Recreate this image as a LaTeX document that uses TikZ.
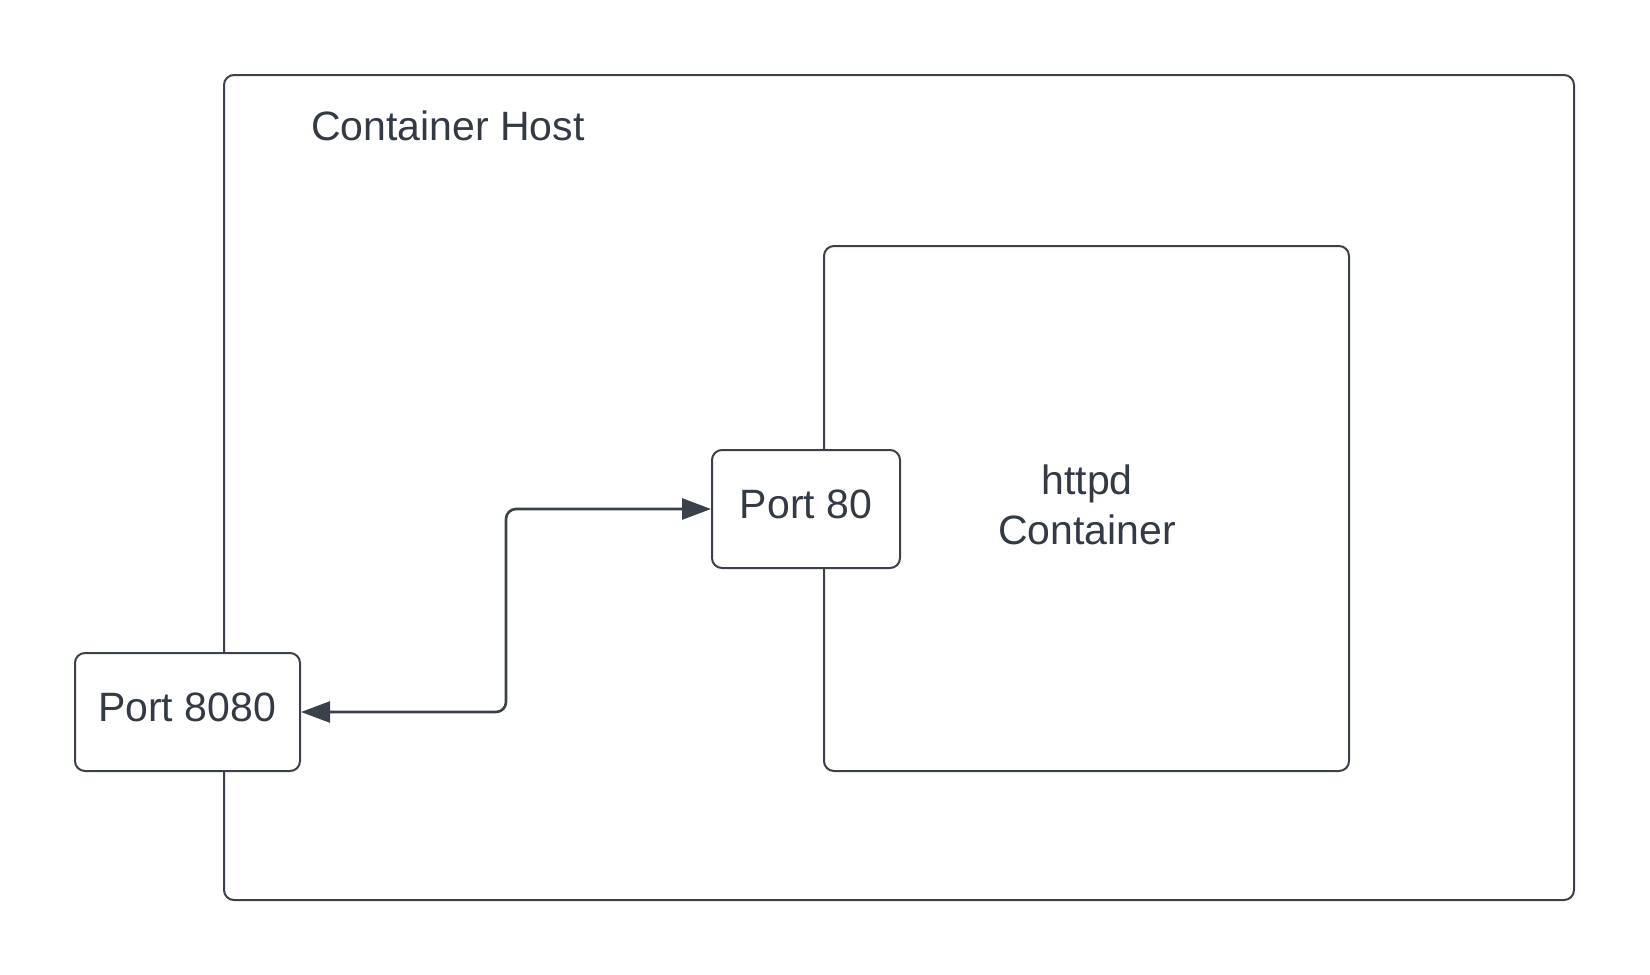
\documentclass[tikz,border=0pt]{standalone}
\usepackage{fontspec}
\setmainfont{Liberation Sans}
\usetikzlibrary{arrows.meta}
\definecolor{lc}{HTML}{3A414A}
\definecolor{tc}{HTML}{333A45}
\tikzset{
  box/.style={draw=lc, line width=2pt, rounded corners=10pt, inner sep=0pt, fill=white},
  lbl/.style={text=tc, font=\fontsize{41}{49}\selectfont, inner sep=0pt},
  conn/.style={draw=lc, line width=2.6pt, rounded corners=10pt, {Triangle[length=29pt,width=21pt]}-{Triangle[length=29pt,width=21pt]}}
}
\begin{document}
\begin{tikzpicture}[x=1pt,y=-1pt]
\useasboundingbox (0,0) rectangle (1650,975);
\node[box, minimum width=1350pt, minimum height=825pt] (host) at (899,487.5) {};
\node[lbl, anchor=west] (hostlbl) at (311,126) {Container Host};
\node[box, minimum width=525pt, minimum height=525pt] (httpd) at (1086.5,508.5) {};
\node[lbl, align=center] (httpdlbl) at (1087,505) {httpd\\[0.5pt]Container};
\node[box, minimum width=188pt, minimum height=118pt] (p80) at (806,509) {};
\node[lbl] (p80lbl) at (806,504) {Port 80};
\node[box, minimum width=225pt, minimum height=118pt] (p8080) at (187.5,712) {};
\node[lbl] (p8080lbl) at (187,707) {Port 8080};
\coordinate (bend) at (506,0);
\draw[conn] (p8080.east) -- (bend |- p8080.east) -- (bend |- p80.west) -- (p80.west);
\end{tikzpicture}
\end{document}
